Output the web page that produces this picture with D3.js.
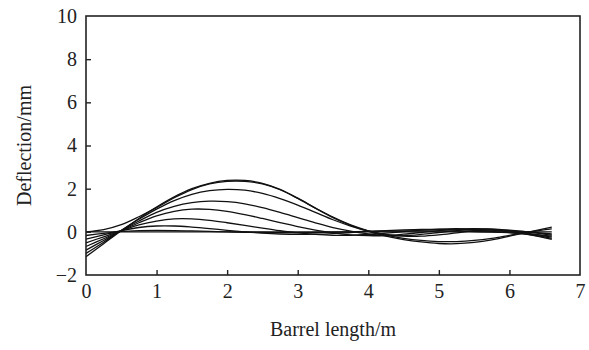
<!DOCTYPE html>
<html><head><meta charset="utf-8">
<script src="https://cdn.jsdelivr.net/npm/d3@7"></script>
<style>body{margin:0;background:#fff}svg{display:block}text{font-family:"Liberation Serif","Times New Roman",serif;fill:#222}</style>
</head><body><svg id="c" width="589" height="350"></svg>
<script>
const xValues = [0, 0.25, 0.5, 0.75, 1.0, 1.25, 1.5, 1.75, 2.0, 2.25, 2.5, 2.75, 3.0, 3.25, 3.5, 3.75, 4.0, 4.25, 4.5, 4.75, 5.0, 5.25, 5.5, 5.75, 6.0, 6.25, 6.6];
const seriesA = [-1.15, -0.55, 0.05, 0.62, 1.15, 1.62, 2.0, 2.25, 2.38, 2.38, 2.25, 1.97, 1.56, 1.1, 0.66, 0.3, 0.02, -0.2, -0.36, -0.47, -0.54, -0.55, -0.49, -0.37, -0.2, -0.02, 0.22];
const seriesB = [0.0, 0.1, 0.33, 0.7, 1.12, 1.58, 1.96, 2.22, 2.34, 2.34, 2.22, 1.95, 1.55, 1.1, 0.68, 0.32, 0.05, -0.15, -0.3, -0.4, -0.45, -0.45, -0.4, -0.3, -0.16, -0.02, 0.14];
const seriesC = [-1.0, -0.48, 0.06, 0.58, 1.05, 1.45, 1.74, 1.91, 1.97, 1.93, 1.78, 1.54, 1.24, 0.9, 0.56, 0.27, 0.04, -0.12, -0.2, -0.2, -0.14, -0.05, 0.04, 0.08, 0.06, 0.0, -0.1];
const seriesD = [-0.85, -0.4, 0.06, 0.5, 0.9, 1.18, 1.35, 1.42, 1.4, 1.3, 1.12, 0.9, 0.66, 0.42, 0.2, 0.03, -0.1, -0.17, -0.18, -0.12, -0.03, 0.06, 0.12, 0.13, 0.08, 0.0, -0.15];
const seriesE = [-0.68, -0.32, 0.05, 0.42, 0.74, 0.95, 1.05, 1.04, 0.95, 0.8, 0.62, 0.43, 0.24, 0.08, -0.05, -0.14, -0.18, -0.17, -0.11, -0.03, 0.06, 0.12, 0.15, 0.12, 0.05, -0.06, -0.25];
const seriesF = [-0.51, -0.23, 0.05, 0.32, 0.5, 0.6, 0.6, 0.53, 0.42, 0.3, 0.17, 0.05, -0.05, -0.12, -0.16, -0.16, -0.12, -0.06, 0.01, 0.08, 0.13, 0.15, 0.13, 0.08, 0.0, -0.1, -0.3];
const seriesG = [-0.34, -0.14, 0.05, 0.2, 0.27, 0.27, 0.22, 0.15, 0.07, 0.0, -0.06, -0.1, -0.12, -0.11, -0.08, -0.03, 0.02, 0.06, 0.09, 0.11, 0.11, 0.1, 0.07, 0.02, -0.04, -0.12, -0.35];
const seriesH = [-0.17, -0.07, 0.02, 0.06, 0.07, 0.06, 0.04, 0.02, 0.0, -0.02, -0.03, -0.04, -0.04, -0.03, -0.02, 0.0, 0.02, 0.03, 0.04, 0.04, 0.04, 0.03, 0.01, -0.01, -0.04, -0.08, -0.2];
const seriesI = [0, 0, 0, 0, 0, 0, 0, 0, 0, 0, 0, 0, 0, 0, 0, 0, 0, 0, 0, 0, 0, 0, 0, 0, 0, 0, 0];
const allSeries = [seriesA, seriesB, seriesC, seriesD, seriesE, seriesF, seriesG, seriesH, seriesI];
const xTicks = [0, 1, 2, 3, 4, 5, 6, 7];
const yTicks = [-2, 0, 2, 4, 6, 8, 10];
const xTitle = "Barrel length/m";
const yTitle = "Deflection/mm";

const svg = d3.select("#c");
const L = 86, R = 580, T = 16, B = 275;
const x = d3.scaleLinear().domain([0, 7]).range([L, R]);
const y = d3.scaleLinear().domain([-2, 10]).range([B, T]);

const line = d3.line().x((d, i) => x(xValues[i])).y(d => y(d)).curve(d3.curveCatmullRom.alpha(0.5));
svg.append("g").selectAll("path").data(allSeries).join("path")
  .attr("d", line).attr("fill", "none").attr("stroke", "#111").attr("stroke-width", 1.3);

// frame
svg.append("rect").attr("x", L).attr("y", T).attr("width", R - L).attr("height", B - T)
  .attr("fill", "none").attr("stroke", "#222").attr("stroke-width", 1.6);

const fmt = d => d < 0 ? "\u2212" + Math.abs(d) : String(d);
const xa = svg.append("g").attr("transform", `translate(0,${B})`)
  .call(d3.axisBottom(x).tickValues(xTicks).tickSizeInner(-5).tickSizeOuter(0).tickPadding(9).tickFormat(fmt));
const ya = svg.append("g").attr("transform", `translate(${L},0)`)
  .call(d3.axisLeft(y).tickValues(yTicks).tickSizeInner(-5).tickSizeOuter(0).tickPadding(9).tickFormat(fmt));
[xa, ya].forEach(a => {
  a.select(".domain").remove();
  a.selectAll("line").attr("stroke", "#222").attr("stroke-width", 1.4);
  a.selectAll("text").attr("font-size", 20).attr("font-family", "Liberation Serif, serif").attr("fill", "#222");
});
xa.selectAll(".tick").filter(d => d === 0 || d === 7).select("line").remove();
ya.selectAll(".tick").filter(d => d === -2 || d === 10).select("line").remove();

svg.append("text").attr("x", (L + R) / 2).attr("y", 336).attr("text-anchor", "middle")
  .attr("font-size", 20).text(xTitle);
svg.append("text").attr("transform", `translate(31,${(T + B) / 2}) rotate(-90)`).attr("text-anchor", "middle")
  .attr("font-size", 20).text(yTitle);
</script></body></html>
